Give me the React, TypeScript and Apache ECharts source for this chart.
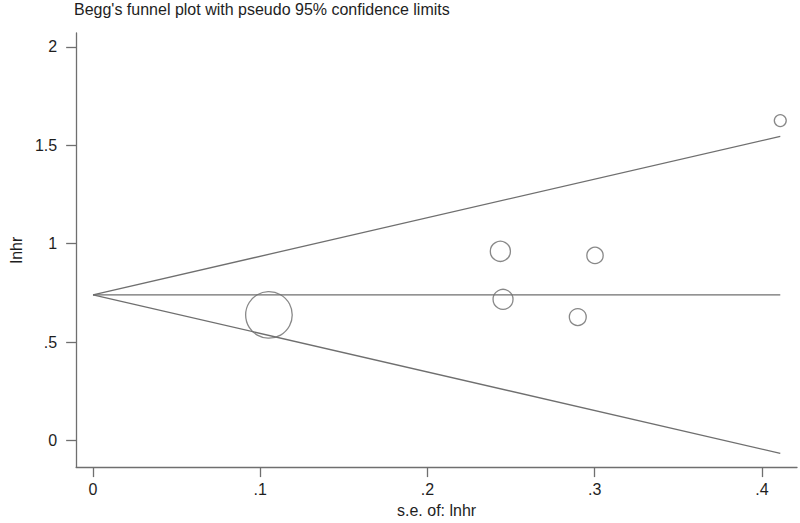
import React, { useEffect, useRef } from "react";
import * as echarts from "echarts";

// Study-level data (standard error of lnHR, lnHR)
const seValues = [0.1052, 0.2436, 0.2452, 0.2899, 0.3002, 0.411];
const lnhrValues = [0.638, 0.961, 0.717, 0.627, 0.94, 1.625];

// Pooled estimate and pseudo 95% confidence limits
const funnelSe = [0, 0.411];
const upperLimit = [0.74, 1.545];
const lowerLimit = [0.74, -0.065];
const pooledLine = [0.74, 0.74];

// Tick values
const xTicks = [0, 0.1, 0.2, 0.3, 0.4];
const yTicks = [0, 0.5, 1, 1.5, 2];

const TITLE = "Begg's funnel plot with pseudo 95% confidence limits";
const X_NAME = "s.e. of: lnhr";
const Y_NAME = "lnhr";

const fmt = (v: number) => {
  if (v === 0) return "0";
  return String(+v.toFixed(2)).replace(/^0\./, ".");
};

export default function App() {
  const ref = useRef<HTMLDivElement>(null);
  useEffect(() => {
    if (!ref.current) return;
    const chart = echarts.init(ref.current, undefined, { renderer: "svg" });
    const textColor = "#1e1e1e";
    const lineColor = "#6f6f6f";
    const font = "Liberation Sans, Arial, Helvetica, sans-serif";
    const pair = (xs: number[], ys: number[]) => xs.map((x, i) => [x, ys[i]]);
    chart.setOption({
      animation: false,
      backgroundColor: "#ffffff",
      textStyle: { fontFamily: font },
      title: {
        text: TITLE,
        left: 74,
        top: 1,
        padding: 0,
        textStyle: { fontSize: 16, fontWeight: "normal", color: textColor, fontFamily: font },
      },
      grid: { left: 73, right: 3, top: 33, bottom: 49, containLabel: false },
      xAxis: {
        type: "value",
        min: -0.0101,
        max: 0.421,
        name: X_NAME,
        nameLocation: "middle",
        nameGap: 33,
        nameTextStyle: { fontSize: 16, color: textColor, fontFamily: font },
        splitLine: { show: false },
        axisLine: { show: true, onZero: false, lineStyle: { color: lineColor, width: 1.3 } },
        axisTick: { show: true, length: 10, customValues: xTicks, lineStyle: { color: lineColor, width: 1.3 } },
        axisLabel: {
          customValues: xTicks,
          formatter: (v: number) => fmt(v),
          fontSize: 16,
          color: textColor,
          margin: 14,
          fontFamily: font,
        },
      },
      yAxis: {
        type: "value",
        min: -0.135,
        max: 2.07,
        name: Y_NAME,
        nameLocation: "middle",
        nameGap: 52,
        nameRotate: 90,
        nameTextStyle: { fontSize: 16, color: textColor, fontFamily: font },
        splitLine: { show: false },
        axisLine: { show: true, onZero: false, lineStyle: { color: lineColor, width: 1.3 } },
        axisTick: { show: true, length: 10, customValues: yTicks, lineStyle: { color: lineColor, width: 1.3 } },
        axisLabel: {
          customValues: yTicks,
          formatter: (v: number) => fmt(v),
          fontSize: 16,
          color: textColor,
          margin: 19,
          fontFamily: font,
        },
      },
      series: [
        {
          type: "line",
          data: pair(funnelSe, upperLimit),
          symbol: "none",
          lineStyle: { color: lineColor, width: 1.3 },
          silent: true,
        },
        {
          type: "line",
          data: pair(funnelSe, pooledLine),
          symbol: "none",
          lineStyle: { color: lineColor, width: 1.3 },
          silent: true,
        },
        {
          type: "line",
          data: pair(funnelSe, lowerLimit),
          symbol: "none",
          lineStyle: { color: lineColor, width: 1.3 },
          silent: true,
        },
        {
          type: "scatter",
          data: pair(seValues, lnhrValues),
          symbol: "circle",
          symbolSize: (d: number[]) => 4.9 / d[0],
          itemStyle: { color: "rgba(0,0,0,0)", borderColor: "#6a6a6a", borderWidth: 1.3 },
        },
      ],
    });
    return () => chart.dispose();
  }, []);
  return (
    <div
      ref={ref}
      style={{ position: "fixed", left: 0, top: 0, width: 800, height: 523, background: "#fff" }}
    />
  );
}
